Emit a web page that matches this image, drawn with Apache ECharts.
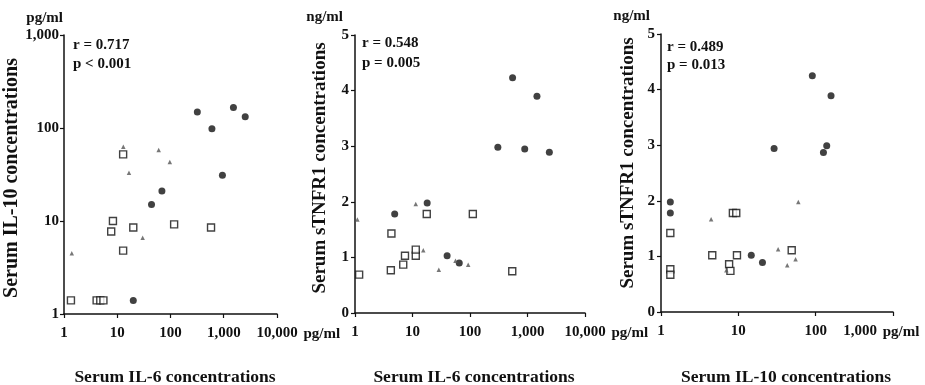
<!DOCTYPE html>
<html>
<head>
<meta charset="utf-8">
<script src="https://cdn.jsdelivr.net/npm/echarts@6/dist/echarts.min.js"></script>
<style>
html,body{margin:0;padding:0;background:#fff;}
#chart{width:925px;height:385px;}
</style>
</head>
<body>
<div id="chart"></div>
<script>
// ---------- Data ----------
// Panel 1: Serum IL-6 (x, pg/ml) vs Serum IL-10 (y, pg/ml)
const p1Squares   = [[1.35,1.4],[4.1,1.4],[4.8,1.4],[5.5,1.4],[7.7,7.7],[8.3,10],[12.9,52],[12.9,4.8],[20,8.5],[117,9.2],[577,8.5]];
const p1Circles   = [[20,1.4],[44,15],[69,21],[319,149],[600,98],[944,31],[1520,166],[2530,132]];
const p1Triangles = [[1.4,4.5],[13,63],[16.6,33],[60,58],[97,43],[30,6.6]];
// Panel 2: Serum IL-6 (x, pg/ml) vs Serum sTNFR1 (y, ng/ml)
const p2Squares   = [[1.18,0.69],[4.2,0.77],[4.3,1.43],[6.9,0.87],[7.4,1.03],[11.4,1.03],[11.4,1.14],[17.7,1.78],[112,1.78],[543,0.75]];
const p2Circles   = [[4.9,1.78],[18,1.98],[40,1.03],[65,0.9],[305,2.98],[550,4.23],[895,2.95],[1460,3.9],[2400,2.89]];
const p2Triangles = [[1.1,1.68],[11.4,1.96],[15.4,1.13],[28.7,0.78],[56,0.94],[93,0.87]];
// Panel 3: Serum IL-10 (x, pg/ml) vs Serum sTNFR1 (y, ng/ml)
const p3Squares   = [[1.32,1.42],[1.32,0.77],[1.32,0.67],[4.6,1.02],[7.6,0.86],[7.9,0.74],[8.5,1.78],[9.4,1.78],[9.6,1.02],[49,1.11]];
const p3Circles   = [[1.32,1.98],[1.32,1.78],[14.7,1.02],[20.5,0.89],[29,2.94],[90.5,4.25],[126,2.87],[139,2.99],[158,3.89]];
const p3Triangles = [[4.45,1.67],[7.0,0.75],[32.7,1.13],[42.9,0.84],[55,0.95],[59.6,1.98]];

// Tick labels
const il6TickLabels   = ['1','10','100','1,000','10,000'];
const il10TickLabels  = ['1','10','100','1,000'];
const tnfTickLabels   = ['0','1','2','3','4','5'];

// Texts
const xTitles = ['Serum IL-6 concentrations','Serum IL-6 concentrations','Serum IL-10 concentrations'];
const yTitles = ['Serum IL-10 concentrations','Serum sTNFR1 concentrations','Serum sTNFR1 concentrations'];
const yUnits  = ['pg/ml','ng/ml','ng/ml'];
const xUnit   = 'pg/ml';
const stats   = [['r = 0.717','p < 0.001'],['r = 0.548','p = 0.005'],['r = 0.489','p = 0.013']];

// ---------- Chart ----------
const FF = '"Liberation Serif","Times New Roman",serif';
const logLabel = (labels) => (v) => labels[Math.round(Math.log10(v))] ?? '';

const grids = [
  {left:64,  top:35, width:213, height:279},
  {left:355, top:35, width:230, height:278},
  {left:661, top:34, width:232, height:278}
];

const axisLineStyle = {show:true, lineStyle:{color:'#111', width:1.5}};
const tickStyle = {show:true, length:4, lineStyle:{color:'#111', width:1.2}};
const lblStyle = {color:'#111', fontFamily:FF, fontWeight:'bold', fontSize:15};

const xUnitGap = [21, 17, -16];
const yNameGap = [36, 25, 23];
const yNameSize = [20, 19, 19];
const yNamePad = [[0,7,0,0],[0,0,0,12],[0,0,0,20]];

const xAxes = [0,1,2].map(i => {
  const labels = i === 2 ? il10TickLabels : il6TickLabels;
  const maxV = i === 2 ? 1000 : 10000;
  return {
    gridIndex:i, type:'log', logBase:10, min:1, max:maxV,
    axisLine:axisLineStyle, axisTick:tickStyle, splitLine:{show:false}, minorTick:{show:false},
    axisLabel:Object.assign({}, lblStyle, {
      margin:12, hideOverlap:false, showMinLabel:true, showMaxLabel:true,
      formatter: (v) => {
        const t = labels[Math.round(Math.log10(v))] ?? '';
        if (i === 2 && v >= 999) return '{last|' + t + '}';
        return t;
      },
      rich:{ last:{ color:'#111', fontFamily:FF, fontWeight:'bold', fontSize:15, padding:[0,66,0,0] } }
    }),
    name:xUnit, nameLocation:'end', nameGap:xUnitGap[i],
    nameTextStyle:Object.assign({}, lblStyle, {align:'left', verticalAlign:'top', padding:[13,0,0,0]})
  };
});

const yAxes = [0,1,2].map(i => {
  const base = {
    gridIndex:i,
    axisLine:axisLineStyle, axisTick:tickStyle, splitLine:{show:false}, minorTick:{show:false},
    name:yTitles[i], nameLocation:'middle', nameRotate:90, nameGap:yNameGap[i],
    nameTextStyle:{color:'#111', fontFamily:FF, fontWeight:'bold', fontSize:yNameSize[i], padding:yNamePad[i]}
  };
  if (i === 0) {
    return Object.assign(base, {type:'log', logBase:10, min:1, max:1000,
      axisLabel:Object.assign({}, lblStyle, {margin:5, formatter:logLabel(il10TickLabels)})});
  }
  return Object.assign(base, {type:'value', min:0, max:5, interval:1,
    axisLabel:Object.assign({}, lblStyle, {margin:6, formatter:(v)=>tnfTickLabels[Math.round(v)] ?? ''})});
});

const panels = [
  [p1Squares, p1Circles, p1Triangles],
  [p2Squares, p2Circles, p2Triangles],
  [p3Squares, p3Circles, p3Triangles]
];
const series = [];
panels.forEach((p, i) => {
  series.push({type:'scatter', xAxisIndex:i, yAxisIndex:i, data:p[0], symbol:'rect', symbolSize:7, z:2,
    itemStyle:{color:'#fff', borderColor:'#111', borderWidth:1.4}, silent:true});
  series.push({type:'scatter', xAxisIndex:i, yAxisIndex:i, data:p[1], symbol:'circle', symbolSize:7, z:3,
    itemStyle:{color:'#111'}, silent:true});
  series.push({type:'scatter', xAxisIndex:i, yAxisIndex:i, data:p[2], symbol:'triangle', symbolSize:4.5, z:4,
    itemStyle:{color:'#555'}, silent:true});
});

const txt = (x, y, text, size, align) => ({
  type:'text', x:x, y:y, silent:true,
  style:{text:text, fill:'#111', font:'bold ' + size + 'px ' + FF, textAlign:align, textVerticalAlign:'middle'}
});

const unitPos = [[63,18],[343,17],[650,16]];
const statPos = [[73,45,64],[362,43,63],[667,47,65]];
const xTitlePos = [[175,377],[474,377],[786,377]];
const graphics = [];
for (let i = 0; i < 3; i++) {
  graphics.push(txt(unitPos[i][0], unitPos[i][1], yUnits[i], 15, 'right'));
  graphics.push(txt(statPos[i][0], statPos[i][1], stats[i][0], 15, 'left'));
  graphics.push(txt(statPos[i][0], statPos[i][2], stats[i][1], 15, 'left'));
  graphics.push(txt(xTitlePos[i][0], xTitlePos[i][1], xTitles[i], 17.5, 'center'));
}

const chart = echarts.init(document.getElementById('chart'), null, {renderer:'canvas'});
chart.setOption({
  animation:false,
  backgroundColor:'#fff',
  grid:grids,
  xAxis:xAxes,
  yAxis:yAxes,
  series:series,
  graphic:graphics
});
</script>
</body>
</html>
